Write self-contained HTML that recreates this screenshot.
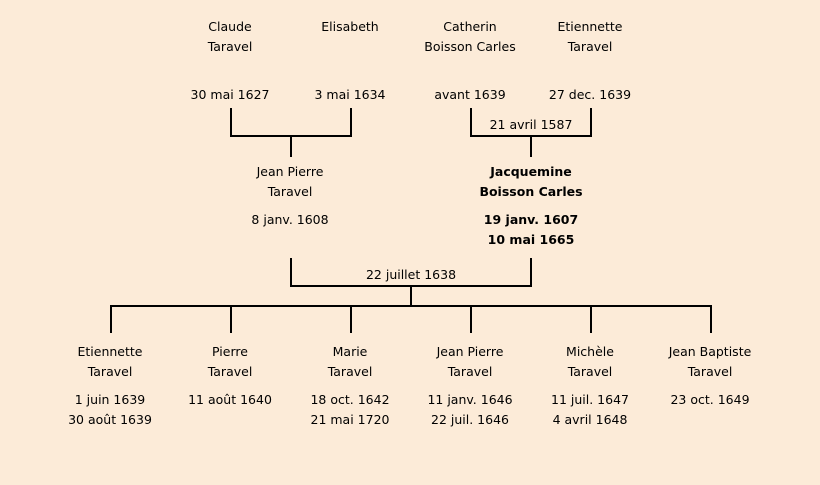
<!DOCTYPE html>
<html><head><meta charset="utf-8">
<style>
html,body{margin:0;padding:0}
body{width:820px;height:485px;background:#fcebd8;position:relative;overflow:hidden;font-family:"DejaVu Sans","Liberation Sans",sans-serif;font-size:12.5px;color:#000}
.t{position:absolute;transform:translate(-50%,-50%);white-space:nowrap;text-align:center;line-height:20px}
.b{font-weight:bold}
.h{position:absolute;height:2px;background:#000}
.v{position:absolute;width:2px;background:#000}
</style></head><body>
<div class="t" style="left:230px;top:37px">Claude<br>Taravel</div>
<div class="t" style="left:350px;top:27px">Elisabeth</div>
<div class="t" style="left:470px;top:37px">Catherin<br>Boisson Carles</div>
<div class="t" style="left:590px;top:37px">Etiennette<br>Taravel</div>
<div class="t" style="left:230px;top:95px">30 mai 1627</div>
<div class="t" style="left:350px;top:95px">3 mai 1634</div>
<div class="t" style="left:470px;top:95px">avant 1639</div>
<div class="t" style="left:590px;top:95px">27 dec. 1639</div>

<div class="v" style="left:230px;top:108px;height:29px"></div>
<div class="v" style="left:350px;top:108px;height:29px"></div>
<div class="h" style="left:230px;top:135px;width:122px"></div>
<div class="v" style="left:290px;top:135px;height:22px"></div>

<div class="v" style="left:470px;top:108px;height:29px"></div>
<div class="v" style="left:590px;top:108px;height:29px"></div>
<div class="h" style="left:470px;top:135px;width:122px"></div>
<div class="v" style="left:530px;top:135px;height:22px"></div>
<div class="t" style="left:531px;top:125px">21 avril 1587</div>

<div class="t" style="left:290px;top:182px">Jean Pierre<br>Taravel</div>
<div class="t" style="left:290px;top:220px">8 janv. 1608</div>
<div class="t b" style="left:531px;top:182px">Jacquemine<br>Boisson Carles</div>
<div class="t b" style="left:531px;top:230px">19 janv. 1607<br>10 mai 1665</div>

<div class="v" style="left:290px;top:258px;height:29px"></div>
<div class="v" style="left:530px;top:258px;height:29px"></div>
<div class="h" style="left:290px;top:285px;width:242px"></div>
<div class="t" style="left:411px;top:275px">22 juillet 1638</div>
<div class="v" style="left:410px;top:285px;height:21px"></div>
<div class="h" style="left:110px;top:305px;width:602px"></div>
<div class="v" style="left:110px;top:305px;height:28px"></div>
<div class="v" style="left:230px;top:305px;height:28px"></div>
<div class="v" style="left:350px;top:305px;height:28px"></div>
<div class="v" style="left:470px;top:305px;height:28px"></div>
<div class="v" style="left:590px;top:305px;height:28px"></div>
<div class="v" style="left:710px;top:305px;height:28px"></div>

<div class="t" style="left:110px;top:362px">Etiennette<br>Taravel</div>
<div class="t" style="left:230px;top:362px">Pierre<br>Taravel</div>
<div class="t" style="left:350px;top:362px">Marie<br>Taravel</div>
<div class="t" style="left:470px;top:362px">Jean Pierre<br>Taravel</div>
<div class="t" style="left:590px;top:362px">Michèle<br>Taravel</div>
<div class="t" style="left:710px;top:362px">Jean Baptiste<br>Taravel</div>

<div class="t" style="left:110px;top:410px">1 juin 1639<br>30 août 1639</div>
<div class="t" style="left:230px;top:400px">11 août 1640</div>
<div class="t" style="left:350px;top:410px">18 oct. 1642<br>21 mai 1720</div>
<div class="t" style="left:470px;top:410px">11 janv. 1646<br>22 juil. 1646</div>
<div class="t" style="left:590px;top:410px">11 juil. 1647<br>4 avril 1648</div>
<div class="t" style="left:710px;top:400px">23 oct. 1649</div>
</body></html>
